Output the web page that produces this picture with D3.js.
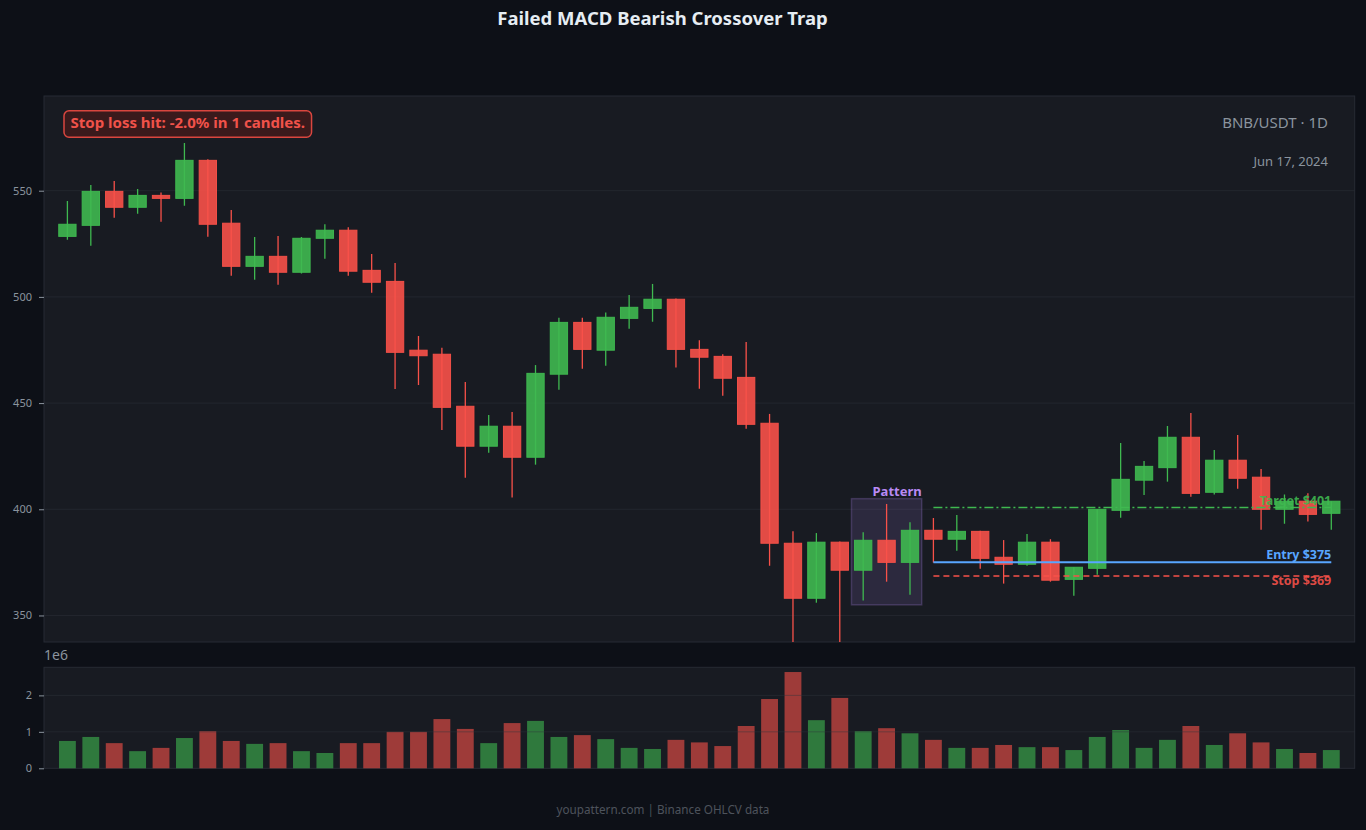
<!DOCTYPE html>
<html>
<head>
<meta charset="utf-8">
<script src="https://cdn.jsdelivr.net/npm/d3@7/dist/d3.min.js"></script>
<style>
  html, body { margin: 0; padding: 0; background: #0d1017; }
  svg { display: block; }
  text { font-family: "Noto Sans", "Open Sans", sans-serif; }
</style>
</head>
<body>
<svg id="chart" width="1366" height="830"></svg>
<script>
// ---------- DATA ----------
const opens  = [528.5,533.7,549.7,542.2,547.8,546.4,564.3,534.7,514.4,519.1,511.6,527.6,531.4,512.5,507.3,474.9,473.0,448.5,429.7,439.1,424.5,463.6,488.0,474.9,489.9,494.6,498.9,475.3,472.0,462.1,440.5,384.0,358.1,384.5,371.3,385.4,375.0,390.1,385.9,389.6,377.4,374.1,384.5,367.0,372.2,399.5,413.7,419.6,433.9,408.0,423.1,415.1,400.0,403.8,398.1];
const highs  = [545.2,552.7,554.6,550.8,549.2,572.5,564.8,540.9,528.2,528.7,528.2,534.2,532.8,520.2,516.0,481.6,476.0,459.9,444.4,445.8,467.9,490.2,490.2,492.6,500.9,506.1,499.3,479.6,473.0,478.8,444.9,389.6,388.8,384.8,389.2,402.5,393.9,395.9,397.3,389.9,385.5,388.4,385.9,372.7,400.0,431.2,422.7,439.2,445.3,427.9,435.0,419.0,407.0,407.5,403.8];
const lows   = [526.9,524.1,537.3,539.2,535.4,542.9,528.3,510.0,508.1,505.7,511.0,518.0,510.0,502.0,456.6,458.5,437.3,414.9,426.6,405.5,421.0,456.3,466.2,467.6,485.0,488.3,466.7,456.8,453.5,437.9,373.4,337.0,356.0,337.0,357.0,365.9,359.8,374.9,380.5,372.0,365.0,373.4,365.9,359.3,369.2,396.0,406.7,413.0,405.9,406.9,409.7,390.4,393.2,394.2,390.4];
const closes = [534.2,549.7,542.2,547.8,546.4,564.3,534.2,514.4,519.1,511.6,527.6,531.4,512.1,506.9,473.9,472.3,448.0,429.7,439.1,424.5,464.0,488.0,475.3,490.4,495.1,498.9,475.3,471.6,461.7,440.0,384.0,358.1,384.5,371.3,385.4,375.0,390.1,385.9,389.6,376.9,374.1,384.5,366.6,372.7,400.0,414.1,420.2,433.9,407.5,423.1,414.6,400.0,403.8,397.6,403.8];
const volumes = [0.75e6,0.86e6,0.69e6,0.47e6,0.56e6,0.83e6,1.02e6,0.75e6,0.67e6,0.69e6,0.47e6,0.42e6,0.69e6,0.69e6,1.00e6,1.00e6,1.35e6,1.08e6,0.69e6,1.24e6,1.30e6,0.86e6,0.91e6,0.80e6,0.56e6,0.53e6,0.78e6,0.71e6,0.61e6,1.16e6,1.90e6,2.64e6,1.32e6,1.93e6,1.02e6,1.10e6,0.96e6,0.78e6,0.56e6,0.56e6,0.64e6,0.58e6,0.58e6,0.50e6,0.86e6,1.05e6,0.56e6,0.78e6,1.16e6,0.64e6,0.96e6,0.71e6,0.53e6,0.42e6,0.50e6];

const priceTicks = [350, 400, 450, 500, 550];
const volumeTicks = [0, 1e6, 2e6];

const titleText = "Failed MACD Bearish Crossover Trap";
const annotationText = "Stop loss hit: -2.0% in 1 candles.";
const symbolText = "BNB/USDT · 1D";
const dateText = "Jun 17, 2024";
const footerText = "youpattern.com | Binance OHLCV data";
const volumeOffsetText = "1e6";

const patternStart = 34, patternEnd = 36;
const patternLow = 355, patternHigh = 405;
const patternLabel = "Pattern";

const levelStart = 37, levelEnd = 54;
const entryPrice = 375.0, stopPrice = 368.6, targetPrice = 400.8;
const entryLabel = "Entry $375", stopLabel = "Stop $369", targetLabel = "Target $401";

// ---------- STYLE ----------
const UP = "#3fb950", DOWN = "#f85149";
const PANEL = "#181b22", BORDER = "#272b34", GRID = "#30363d", AXIS = "#8b949e";

const svg = d3.select("#chart");
svg.append("rect").attr("width", 1366).attr("height", 830).attr("fill", "#0d1017");

const L = 44, R = 1354.7;
const pTop = 96, pBot = 642;
const vTop = 667.3, vBot = 768.3;

const n = closes.length;
const x = d3.scaleLinear().domain([-1, n]).range([L, R]);
const step = x(1) - x(0);
const y = d3.scaleLinear().domain([337.5, 594.6]).range([pBot, pTop]);
const yv = d3.scaleLinear().domain([0, 2.77e6]).range([vBot, vTop]);

// title
svg.append("text").attr("x", 662.5).attr("y", 20).attr("text-anchor", "middle")
  .attr("dominant-baseline", "middle").attr("font-size", 18.5).attr("font-weight", "bold")
  .attr("fill", "#e6edf3").text(titleText);

// ---------- PRICE PANEL ----------
svg.append("rect").attr("x", L).attr("y", pTop).attr("width", R - L).attr("height", pBot - pTop)
  .attr("fill", PANEL).attr("stroke", BORDER).attr("stroke-width", 1);

svg.append("defs").append("clipPath").attr("id", "pclip")
  .append("rect").attr("x", L).attr("y", pTop).attr("width", R - L).attr("height", pBot - pTop);

const pg = svg.append("g").attr("clip-path", "url(#pclip)");

// grid
pg.append("g").selectAll("line").data(priceTicks).join("line")
  .attr("x1", L).attr("x2", R).attr("y1", d => y(d)).attr("y2", d => y(d))
  .attr("stroke", GRID).attr("stroke-opacity", 0.45).attr("stroke-width", 1);

// y axis
const yAxis = d3.axisLeft(y).tickValues(priceTicks).tickSize(5).tickPadding(7).tickFormat(d3.format("d"));
const ya = svg.append("g").attr("transform", `translate(${L},0)`).call(yAxis);
ya.select(".domain").remove();
ya.selectAll("line").attr("stroke", AXIS);
ya.selectAll("text").attr("fill", AXIS).attr("font-size", 11).attr("font-family", "Noto Sans, sans-serif");

// pattern box
pg.append("rect")
  .attr("x", x(patternStart - 0.5)).attr("width", x(patternEnd + 0.5) - x(patternStart - 0.5))
  .attr("y", y(patternHigh)).attr("height", y(patternLow) - y(patternHigh))
  .attr("fill", "#bc8cff").attr("fill-opacity", 0.13)
  .attr("stroke", "#bc8cff").attr("stroke-opacity", 0.22).attr("stroke-width", 1.5);
svg.append("text").attr("x", x(patternStart + 0.4)).attr("y", y(patternHigh) - 6.5)
  .attr("dominant-baseline", "middle").attr("font-size", 13).attr("font-weight", "bold")
  .attr("fill", "#b98af5").text(patternLabel);

// candles
const idx = d3.range(n);
const bw = step * 0.74;
const cg = pg.append("g");
cg.selectAll("line.wick").data(idx).join("line").attr("class", "wick")
  .attr("x1", i => x(i)).attr("x2", i => x(i))
  .attr("y1", i => y(highs[i])).attr("y2", i => y(lows[i]))
  .attr("stroke", i => closes[i] >= opens[i] ? UP : DOWN).attr("stroke-width", 1.3);
cg.selectAll("rect.body").data(idx).join("rect").attr("class", "body")
  .attr("x", i => x(i) - bw / 2).attr("width", bw)
  .attr("y", i => y(Math.max(opens[i], closes[i])))
  .attr("height", i => Math.max(1.5, Math.abs(y(opens[i]) - y(closes[i]))))
  .attr("fill", i => closes[i] >= opens[i] ? UP : DOWN).attr("fill-opacity", 0.9)
  .attr("stroke", i => closes[i] >= opens[i] ? UP : DOWN).attr("stroke-opacity", 0.95).attr("stroke-width", 1);

// levels
const lg = svg.append("g");
lg.append("line").attr("x1", x(levelStart)).attr("x2", x(levelEnd))
  .attr("y1", y(targetPrice)).attr("y2", y(targetPrice))
  .attr("stroke", UP).attr("stroke-width", 1.5).attr("stroke-dasharray", "9,3,2,3");
lg.append("line").attr("x1", x(levelStart)).attr("x2", x(levelEnd))
  .attr("y1", y(entryPrice)).attr("y2", y(entryPrice))
  .attr("stroke", "#58a6ff").attr("stroke-width", 2);
lg.append("line").attr("x1", x(levelStart)).attr("x2", x(levelEnd))
  .attr("y1", y(stopPrice)).attr("y2", y(stopPrice))
  .attr("stroke", DOWN).attr("stroke-width", 1.5).attr("stroke-dasharray", "6,4");

lg.append("text").attr("x", x(levelEnd)).attr("y", y(targetPrice) - 6)
  .attr("text-anchor", "end").attr("dominant-baseline", "middle")
  .attr("font-size", 12.5).attr("font-weight", "bold").attr("fill", UP).attr("fill-opacity", 0.9).text(targetLabel);
lg.append("text").attr("x", x(levelEnd)).attr("y", y(entryPrice) - 7)
  .attr("text-anchor", "end").attr("dominant-baseline", "middle")
  .attr("font-size", 12.5).attr("font-weight", "bold").attr("fill", "#58a6ff").text(entryLabel);
lg.append("text").attr("x", x(levelEnd)).attr("y", y(stopPrice) + 6)
  .attr("text-anchor", "end").attr("dominant-baseline", "middle")
  .attr("font-size", 12.5).attr("font-weight", "bold").attr("fill", DOWN).attr("fill-opacity", 0.9).text(stopLabel);

// annotation box
const ann = svg.append("g");
const annText = ann.append("text").attr("x", 70.5).attr("y", 124)
  .attr("dominant-baseline", "middle").attr("font-size", 15).attr("font-weight", "bold")
  .attr("fill", "#f0524a").text(annotationText);
const bb = annText.node().getBBox();
ann.insert("rect", "text").attr("x", bb.x - 6.5).attr("y", 110.7)
  .attr("width", bb.width + 13).attr("height", 26.6).attr("rx", 5)
  .attr("fill", "#3a1a1c").attr("stroke", "#d9463f").attr("stroke-width", 1.5);

// symbol + date
svg.append("text").attr("x", 1328).attr("y", 124).attr("text-anchor", "end")
  .attr("dominant-baseline", "middle").attr("font-size", 15).attr("fill", AXIS).text(symbolText);
svg.append("text").attr("x", 1328).attr("y", 162.5).attr("text-anchor", "end")
  .attr("dominant-baseline", "middle").attr("font-size", 13).attr("fill", AXIS).text(dateText);

// ---------- VOLUME PANEL ----------
svg.append("rect").attr("x", L).attr("y", vTop).attr("width", R - L).attr("height", vBot - vTop)
  .attr("fill", PANEL).attr("stroke", BORDER).attr("stroke-width", 1);

const vbw = step * 0.72;
svg.append("g").selectAll("rect").data(idx).join("rect")
  .attr("x", i => x(i) - vbw / 2).attr("width", vbw)
  .attr("y", i => yv(volumes[i])).attr("height", i => yv(0) - yv(volumes[i]))
  .attr("fill", i => closes[i] >= opens[i] ? UP : DOWN).attr("fill-opacity", 0.6);

svg.append("g").selectAll("line").data(volumeTicks.slice(1)).join("line")
  .attr("x1", L).attr("x2", R).attr("y1", d => yv(d)).attr("y2", d => yv(d))
  .attr("stroke", GRID).attr("stroke-opacity", 0.45).attr("stroke-width", 1);

const vAxis = d3.axisLeft(yv).tickValues(volumeTicks).tickSize(5).tickPadding(7).tickFormat(d => d3.format("d")(d / 1e6));
const va = svg.append("g").attr("transform", `translate(${L},0)`).call(vAxis);
va.select(".domain").remove();
va.selectAll("line").attr("stroke", AXIS);
va.selectAll("text").attr("fill", AXIS).attr("font-size", 11).attr("font-family", "Noto Sans, sans-serif");

svg.append("text").attr("x", 44).attr("y", 656).attr("dominant-baseline", "middle")
  .attr("font-size", 14).attr("fill", AXIS).text(volumeOffsetText);

// footer
svg.append("text").attr("x", 663).attr("y", 811).attr("text-anchor", "middle")
  .attr("dominant-baseline", "middle").attr("font-size", 11.7).attr("fill", "#4d535c").text(footerText);
</script>
</body>
</html>
